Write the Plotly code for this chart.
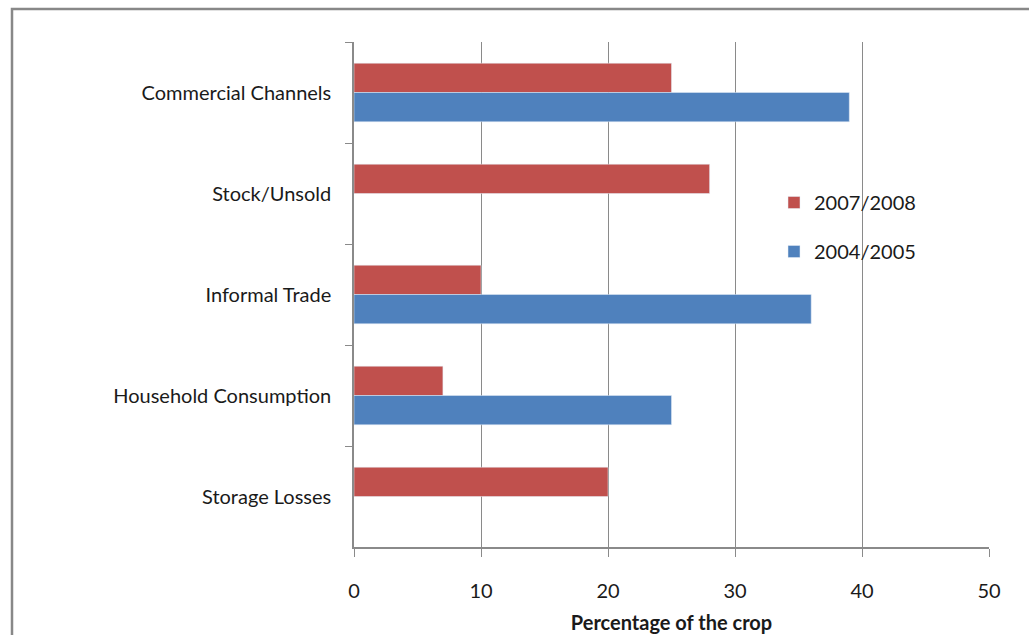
import plotly.graph_objects as go

categories = ["Commercial Channels", "Stock/Unsold", "Informal Trade",
              "Household Consumption", "Storage Losses"]
series_names = ["2007/2008", "2004/2005"]
values_0708 = [25, 28, 10, 7, 20]
values_0405 = [39, None, 36, 25, None]
x_ticks = [0, 10, 20, 30, 40, 50]

W, H = 1029, 635
L, R, T, B = 354, 40, 42, 88
FONT = "Lato, 'Open Sans', sans-serif"

fig = go.Figure()
fig.add_trace(go.Bar(y=categories, x=values_0708, orientation="h",
                     name=series_names[0], marker_color="#C0504D",
                     legendgroup="a"))
fig.add_trace(go.Bar(y=categories, x=values_0405, orientation="h",
                     name=series_names[1], marker_color="#4F81BD",
                     legendgroup="b"))

pw = W - L - R
ph = H - T - B
fig.add_shape(type="rect", xref="paper", yref="paper",
              x0=(12 - L) / pw, x1=(W + 20 - L) / pw,
              y0=-(H + 20 - T - ph) / ph, y1=1 + (T - 9) / ph,
              line=dict(color="#888888", width=2.5), fillcolor="rgba(0,0,0,0)",
              layer="below")

fig.update_layout(
    width=W, height=H,
    margin=dict(l=L, r=R, t=T, b=B, autoexpand=False),
    paper_bgcolor="white", plot_bgcolor="white",
    barmode="group", bargap=0.42, bargroupgap=0,
    font=dict(family=FONT, size=20, color="#1a1a1a"),
    showlegend=True,
    legend=dict(x=(774 - L) / pw, y=1 - (183 - T) / ph, xanchor="left", yanchor="top",
                bgcolor="rgba(0,0,0,0)", font=dict(size=20),
                tracegroupgap=20, itemwidth=30),
    xaxis=dict(range=[0, 50], tickvals=x_ticks, showgrid=True, automargin=False,
               gridcolor="#8a8a8a", gridwidth=1, showline=True,
               linecolor="#8a8a8a", linewidth=1.5, ticks="outside",
               ticklen=8, tickcolor="#8a8a8a", zeroline=False,
               tickfont=dict(size=20), ticklabelstandoff=17,
               title=dict(text="<b>Percentage of the crop</b>",
                          font=dict(size=20), standoff=15)),
    yaxis=dict(autorange="reversed", type="category", showline=True, automargin=False,
               linecolor="#8a8a8a", linewidth=1.5, ticks="outside",
               tickson="boundaries", ticklen=7, tickcolor="#8a8a8a",
               showgrid=False, tickfont=dict(size=20), ticklabelstandoff=17),
)

fig.write_html("out.html")
